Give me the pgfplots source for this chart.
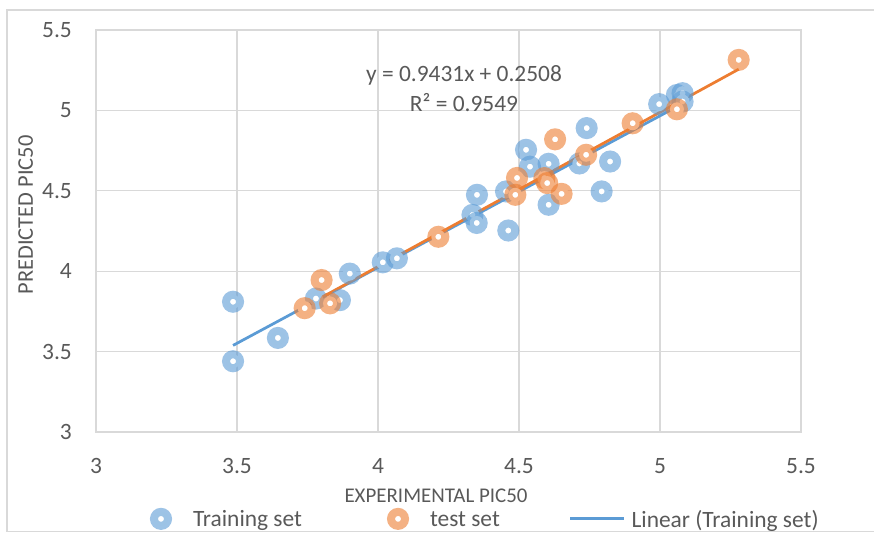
\documentclass[border=0pt]{standalone}
\usepackage{fontspec}
\setmainfont{Carlito}
\usepackage{pgfplots}
\pgfplotsset{compat=1.18}
\definecolor{xlblue}{HTML}{5B9BD5}
\definecolor{xlorange}{HTML}{ED7D31}
\definecolor{xlgrid}{HTML}{D9D9D9}
\definecolor{xltext}{HTML}{595959}
\begin{document}
\begin{tikzpicture}[font=\fontsize{23.5}{28}\selectfont]
\useasboundingbox (-96bp,-101bp) rectangle (778bp,432bp);
\draw[xlgrid, line width=1.2bp] (778bp,-99.5bp) -- (-89bp,-99.5bp) -- (-89bp,422bp) -- (778bp,422bp);
\begin{axis}[
  at={(0,0)}, anchor=south west,
  scale only axis, width=705bp, height=402bp,
  xmin=3, xmax=5.5, ymin=3, ymax=5.5,
  xtick={3,3.5,4,4.5,5,5.5}, ytick={3,3.5,4,4.5,5,5.5},
  grid=major, grid style={xlgrid, line width=1.2bp},
  axis line style={xlgrid, line width=1.2bp},
  major tick length=0pt,
  /pgf/number format/assume math mode=true,
  tick label style={text=xltext, inner sep=0pt, font=\fontsize{23.5}{28}\selectfont},
  yticklabel style={xshift=-24bp},
  xticklabel style={yshift=-26bp},
  xlabel={EXPERIMENTAL PIC50},
  ylabel={PREDICTED PIC50},
  label style={text=xltext, inner sep=0pt},
  xlabel style={at={(axis description cs:0.4823,-0.1759)}, anchor=base, font=\fontsize{21}{25}\selectfont},
  ylabel style={at={(axis description cs:-0.0894,0.5398)}, anchor=base, font=\fontsize{22.5}{27}\selectfont},
  legend columns=3,
  legend style={at={(axis description cs:0.0766,-0.2161)}, anchor=west,
    draw=none, fill=none, inner sep=0pt, outer sep=0pt,
    nodes={inner sep=0pt, text depth=0pt, text=xltext, font=\fontsize{23.5}{28}\selectfont},
    /tikz/column 1/.style={column sep=21bp},
    /tikz/column 2/.style={column sep=85bp},
    /tikz/column 3/.style={column sep=21bp},
    /tikz/column 4/.style={column sep=69bp},
    /tikz/column 5/.style={column sep=6bp}},
]
% Training set
\addplot[only marks, mark=*, mark size=7bp,
  mark options={draw=xlblue, fill=white, line width=8bp, draw opacity=0.6},
  legend image code/.code={\path[draw=none, fill=none] (0bp,-11bp) rectangle (22bp,11bp);
    \draw[xlblue, draw opacity=0.6, fill=white, line width=8bp] (11bp,0bp) circle[radius=7bp];}]
coordinates {
(3.486,3.81) (3.486,3.44) (3.645,3.585) (3.78,3.83) (3.865,3.82)
(3.90,3.985) (4.017,4.055) (4.067,4.08) (4.351,4.475) (4.335,4.35)
(4.35,4.30) (4.462,4.253) (4.454,4.496) (4.525,4.755) (4.539,4.65)
(4.605,4.668) (4.605,4.413) (4.714,4.67) (4.74,4.89) (4.823,4.682)
(4.793,4.496) (4.997,5.039) (5.06,5.096) (5.08,5.107) (5.08,5.055)
};
\addlegendentry{Training set}
% Test set
\addplot[only marks, mark=*, mark size=7bp,
  mark options={draw=xlorange, fill=white, line width=8bp, draw opacity=0.6},
  legend image code/.code={\path[draw=none, fill=none] (0bp,-11bp) rectangle (22bp,11bp);
    \draw[xlorange, draw opacity=0.6, fill=white, line width=8bp] (11bp,0bp) circle[radius=7bp];}]
coordinates {
(3.74,3.77) (3.80,3.945) (3.83,3.80) (4.214,4.214) (4.493,4.58)
(4.487,4.475) (4.59,4.579) (4.60,4.548) (4.651,4.481) (4.628,4.82)
(4.738,4.724) (4.903,4.92) (5.06,5.007) (5.279,5.314)
};
\addlegendentry{test set}
% Linear trend (training)
\addplot[xlblue, line width=2.75bp, no marks,
  legend image code/.code={\path[draw=none, fill=none] (0bp,-11bp) rectangle (54bp,11bp);
    \draw[xlblue, line width=2.75bp] (0bp,0bp) -- (54bp,0bp);}]
coordinates {(3.486,3.5385) (5.08,5.0418)};
\addlegendentry{Linear (Training set)}
% Linear trend (test)
\addplot[xlorange, line width=2.75bp, no marks, forget plot]
coordinates {(3.738,3.777) (5.279,5.256)};
\node[text=xltext, anchor=base, inner sep=0pt] at (axis cs:4.305,5.178) {y = 0.9431x + 0.2508};
\node[text=xltext, anchor=base, inner sep=0pt] at (axis cs:4.305,4.992) {R² = 0.9549};
\end{axis}
\end{tikzpicture}
\end{document}
